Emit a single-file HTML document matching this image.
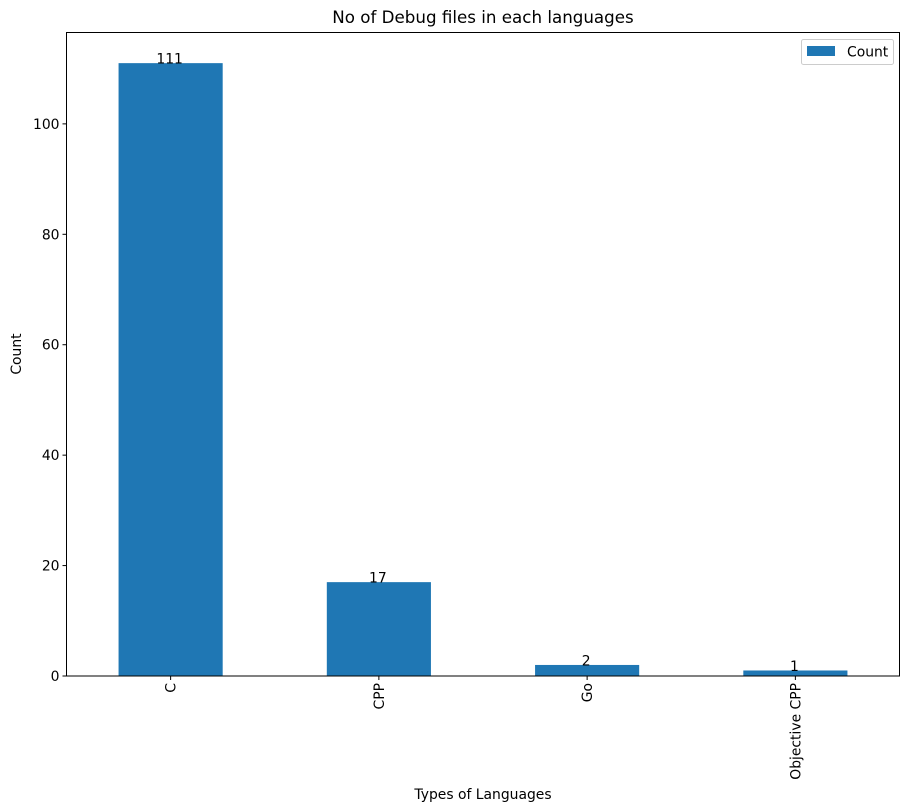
<!DOCTYPE html>
<html><head><meta charset="utf-8"><style>
html,body{margin:0;padding:0;background:#fff;}
svg{display:block;font-family:"DejaVu Sans","Liberation Sans",sans-serif;}
</style></head><body>
<svg id="chart" width="909" height="812" viewBox="0 0 909 812">
<rect width="909" height="812" fill="#fff"/>
<text x="483" y="23" font-size="16.7" text-anchor="middle">No of Debug files in each languages</text>
<g id="bars"></g>
<g id="yticks"></g>
<g id="xticks"></g>
<rect x="66.5" y="32.5" width="833" height="643.5" fill="none" stroke="#000" stroke-width="1"/>
<text x="21" y="354" font-size="13.9" text-anchor="middle" transform="rotate(-90 21 354)">Count</text>
<text x="483" y="799" font-size="13.9" text-anchor="middle">Types of Languages</text>
<g>
<rect x="801.5" y="39.5" width="92" height="25" rx="2" fill="#fff" stroke="#ccc"/>
<rect x="807" y="46" width="28" height="10" fill="#1f77b4"/>
<text x="847" y="56.5" font-size="13.9">Count</text>
</g>
</svg>
<script>
const categories = ["C","CPP","Go","Objective CPP"];
const values = [111,17,2,1];
const yTicks = [0,20,40,60,80,100];
const ns="http://www.w3.org/2000/svg";
const L=66.5,R=899.5,T=32.5,B=676,yMax=116.55;
function y(v){return B-(v/yMax)*(B-T);}
function xc(i){return L+(R-L)/categories.length*(i+0.5);}
const bw=(R-L)/categories.length*0.5;
const bars=document.getElementById('bars');
const xt=document.getElementById('xticks');
const yt=document.getElementById('yticks');
function mk(t,a){const e=document.createElementNS(ns,t);for(const k in a)e.setAttribute(k,a[k]);return e;}
categories.forEach((c,i)=>{
  const r=mk('rect',{x:xc(i)-bw/2,y:y(values[i]),width:bw,height:B-y(values[i]),fill:'#1f77b4'});
  
  
  bars.appendChild(r);
  const lb=mk('text',{x:xc(i)-1,y:y(values[i])+0.5,'font-size':13.9,'text-anchor':'middle'});
  lb.textContent=values[i];
  
  
  bars.appendChild(lb);
  const tk=mk('line',{x1:xc(i),x2:xc(i),y1:B,y2:B+4,stroke:'#000'});
  
  
  xt.appendChild(tk);
  const tl=mk('text',{x:0,y:0,'font-size':13.9,'text-anchor':'end',transform:'translate('+(xc(i)+5)+','+(B+7)+') rotate(-90)'});
  tl.textContent=c;
  
  
  xt.appendChild(tl);
});
yTicks.forEach(v=>{
  const tk=mk('line',{x1:L-4,x2:L,y1:y(v),y2:y(v),stroke:'#000'});
  
  
  yt.appendChild(tk);
  const tl=mk('text',{x:L-7,y:y(v)+5,'font-size':13.9,'text-anchor':'end'});
  tl.textContent=v;
  
  
  yt.appendChild(tl);
});
</script>
</body></html>
